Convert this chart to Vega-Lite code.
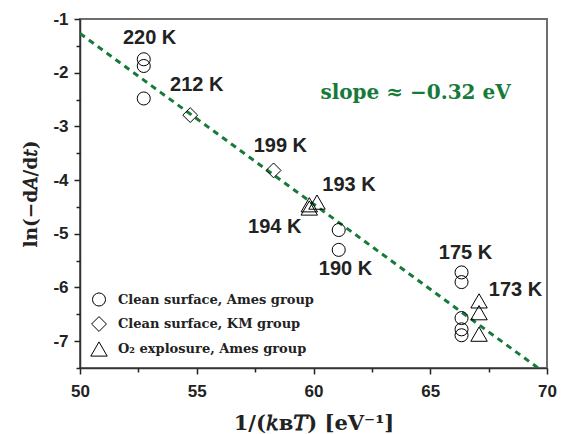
{
  "$schema": "https://vega.github.io/schema/vega-lite/v6.json",
  "autosize": {"type": "none"},
  "padding": {"left": 80, "top": 19, "right": 15, "bottom": 66},
  "width": 467,
  "height": 349,
  "background": "white",
  "config": {
    "view": {"stroke": "#6e6e6e", "strokeWidth": 2},
    "axis": {
      "grid": false,
      "ticks": true,
      "domainColor": "#333333",
      "domainWidth": 1.5,
      "tickColor": "#222222",
      "tickWidth": 1.5,
      "tickSize": 6,
      "tickOpacity": 1,
      "labelOverlap": false,
      "labelFlush": false,
      "labelFont": "Liberation Sans",
      "labelFontWeight": "bold",
      "labelFontSize": 17,
      "labelColor": "#222222",
      "titleFont": "DejaVu Serif",
      "titleFontWeight": "bold",
      "titleFontSize": 21,
      "titleColor": "#222222"
    }
  },
  "resolve": {"axis": {"x": "independent", "y": "independent"}},
  "layer": [
    {
      "data": {"values": [{"x": 50, "y": -1.27}, {"x": 69.62, "y": -7.5}]},
      "mark": {"type": "line", "color": "#157a3a", "strokeWidth": 3, "strokeDash": [6, 5], "clip": true},
      "encoding": {
        "x": {
          "field": "x", "type": "quantitative",
          "scale": {"domain": [50, 70], "nice": false, "zero": false},
          "axis": {
            "orient": "bottom",
            "title": "1/(𝑘ʙ𝑇) [eV⁻¹]",
            "values": [50, 55, 60, 65, 70],
            "labelPadding": 9,
            "titlePadding": 13
          }
        },
        "y": {
          "field": "y", "type": "quantitative",
          "scale": {"domain": [-7.5, -1], "nice": false, "zero": false},
          "axis": {
            "orient": "left",
            "title": "ln(−d𝐴/d𝑡)",
            "titleFontSize": 18.5,
            "values": [-7, -6, -5, -4, -3, -2, -1],
            "labelExpr": "datum.value + ''",
            "labelPadding": 6,
            "titlePadding": 12
          }
        }
      }
    },
    {
      "data": {"values": [
        {"x": 52.73, "y": -1.75, "series": "Clean surface, Ames group"},
        {"x": 52.73, "y": -1.875, "series": "Clean surface, Ames group"},
        {"x": 52.73, "y": -2.48, "series": "Clean surface, Ames group"},
        {"x": 61.08, "y": -4.93, "series": "Clean surface, Ames group"},
        {"x": 61.08, "y": -5.30, "series": "Clean surface, Ames group"},
        {"x": 66.34, "y": -5.72, "series": "Clean surface, Ames group"},
        {"x": 66.34, "y": -5.90, "series": "Clean surface, Ames group"},
        {"x": 66.34, "y": -6.57, "series": "Clean surface, Ames group"},
        {"x": 66.34, "y": -6.78, "series": "Clean surface, Ames group"},
        {"x": 66.34, "y": -6.89, "series": "Clean surface, Ames group"},
        {"x": 54.72, "y": -2.79, "series": "Clean surface, KM group"},
        {"x": 58.29, "y": -3.82, "series": "Clean surface, KM group"},
        {"x": 59.82, "y": -4.46, "series": "O₂ explosure, Ames group"},
        {"x": 59.82, "y": -4.52, "series": "O₂ explosure, Ames group"},
        {"x": 60.15, "y": -4.41, "series": "O₂ explosure, Ames group"},
        {"x": 67.09, "y": -6.25, "series": "O₂ explosure, Ames group"},
        {"x": 67.09, "y": -6.47, "series": "O₂ explosure, Ames group"},
        {"x": 67.09, "y": -6.87, "series": "O₂ explosure, Ames group"}
      ]},
      "mark": {"type": "point", "filled": false, "color": "black", "strokeWidth": 1, "opacity": 1},
      "encoding": {
        "x": {
          "field": "x", "type": "quantitative",
          "axis": {"orient": "bottom", "title": null, "labels": false, "domain": false, "tickSize": 4, "values": [52.5, 57.5, 62.5, 67.5]}
        },
        "y": {
          "field": "y", "type": "quantitative",
          "axis": {"orient": "left", "title": null, "labels": false, "domain": false, "tickSize": 4, "values": [-7.5, -6.5, -5.5, -4.5, -3.5, -2.5, -1.5]}
        },
        "shape": {
          "field": "series", "type": "nominal",
          "scale": {
            "domain": ["Clean surface, Ames group", "Clean surface, KM group", "O₂ explosure, Ames group"],
            "range": ["circle", "diamond", "triangle-up"]
          },
          "legend": {
            "title": null,
            "orient": "none",
            "legendX": 10,
            "legendY": 273,
            "padding": 0,
            "rowPadding": 5,
            "labelFont": "DejaVu Serif",
            "labelFontWeight": "bold",
            "labelFontSize": 13,
            "labelColor": "#222222",
            "labelLimit": 400,
            "labelOffset": 10,
            "symbolStrokeColor": "black",
            "symbolFillColor": "transparent",
            "symbolStrokeWidth": 1
          }
        },
        "size": {
          "field": "series", "type": "nominal",
          "scale": {
            "domain": ["Clean surface, Ames group", "Clean surface, KM group", "O₂ explosure, Ames group"],
            "range": [170, 270, 250]
          },
          "legend": {
            "title": null,
            "orient": "none",
            "legendX": 10,
            "legendY": 273,
            "padding": 0,
            "rowPadding": 5,
            "labelFont": "DejaVu Serif",
            "labelFontWeight": "bold",
            "labelFontSize": 13,
            "labelColor": "#222222",
            "labelLimit": 400,
            "labelOffset": 10,
            "symbolStrokeColor": "black",
            "symbolFillColor": "transparent",
            "symbolStrokeWidth": 1
          }
        }
      }
    },
    {
      "data": {"values": [
        {"x": 52.98, "y": -1.36, "label": "220 K"},
        {"x": 55.0, "y": -2.23, "label": "212 K"},
        {"x": 58.58, "y": -3.36, "label": "199 K"},
        {"x": 61.52, "y": -4.09, "label": "193 K"},
        {"x": 58.34, "y": -4.88, "label": "194 K"},
        {"x": 61.37, "y": -5.66, "label": "190 K"},
        {"x": 66.51, "y": -5.35, "label": "175 K"},
        {"x": 68.65, "y": -6.05, "label": "173 K"}
      ]},
      "mark": {"type": "text", "font": "Liberation Sans", "fontWeight": "bold", "fontSize": 20, "color": "#222222", "align": "center", "baseline": "middle"},
      "encoding": {
        "x": {"field": "x", "type": "quantitative", "axis": null},
        "y": {"field": "y", "type": "quantitative", "axis": null},
        "text": {"field": "label", "type": "nominal"}
      }
    },
    {
      "data": {"values": [{"x": 64.37, "y": -2.38, "label": "slope ≈ −0.32 eV"}]},
      "mark": {"type": "text", "font": "DejaVu Serif", "fontWeight": "bold", "fontSize": 20, "color": "#157a3a", "align": "center", "baseline": "middle"},
      "encoding": {
        "x": {"field": "x", "type": "quantitative", "axis": null},
        "y": {"field": "y", "type": "quantitative", "axis": null},
        "text": {"field": "label", "type": "nominal"}
      }
    }
  ]
}
